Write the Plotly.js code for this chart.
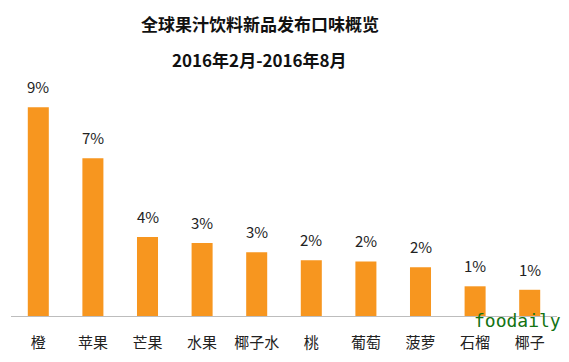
<!DOCTYPE html>
<html>
<head>
<meta charset="utf-8">
<script src="https://cdn.plot.ly/plotly-3.0.1.min.js"></script>
<style>html,body{margin:0;padding:0;background:#fff;}#chart{width:569px;height:362px;}</style>
</head>
<body>
<div id="chart"></div>
<script>
// Data
var categories = ['橙', '苹果', '芒果', '水果', '椰子水', '桃', '葡萄', '菠萝', '石榴', '椰子'];
var shares = [9.0, 6.8, 3.4, 3.15, 2.75, 2.4, 2.35, 2.1, 1.28, 1.13];
var shareLabels = ['9%', '7%', '4%', '3%', '3%', '2%', '2%', '2%', '1%', '1%'];
var titleLine1 = '全球果汁饮料新品发布口味概览';
var titleLine2 = '2016年2月-2016年8月';
var watermark = 'foodaily';

var FONT = '"Noto Sans CJK SC", "Noto Sans", sans-serif';

var trace = {
  type: 'bar',
  x: categories,
  y: shares,
  marker: {color: '#F7961F'},
  hoverinfo: 'none'
};

var annotations = categories.map(function (c, i) {
  return {
    x: c, y: shares[i], xref: 'x', yref: 'y',
    text: shareLabels[i], showarrow: false,
    yanchor: 'bottom', yshift: 8,
    font: {family: FONT, size: 15, color: '#222'}
  };
});

annotations.push({
  xref: 'paper', yref: 'paper', x: 0.456, y: 1.085,
  xanchor: 'center', yanchor: 'middle',
  text: '<b>' + titleLine2 + '</b>', showarrow: false,
  font: {family: FONT, size: 17, color: '#111'}
});

annotations.push({
  xref: 'paper', yref: 'paper', x: 1.01, y: -0.019,
  xanchor: 'right', yanchor: 'middle', borderpad: 0,
  text: watermark, showarrow: false,
  font: {family: '"DejaVu Sans Mono", "Liberation Mono", monospace', size: 18, color: '#137313'}
});

var layout = {
  width: 569, height: 362,
  margin: {l: 11, r: 12, t: 80, b: 46},
  paper_bgcolor: '#fff', plot_bgcolor: '#fff',
  title: {
    text: '<b>' + titleLine1 + '</b>',
    xref: 'container', yref: 'container',
    x: 0.457, y: 0.931, xanchor: 'center', yanchor: 'middle',
    font: {family: FONT, size: 17, color: '#111'}
  },
  bargap: 0.615,
  showlegend: false,
  xaxis: {
    type: 'category',
    showline: true, linecolor: '#bdbdbd', linewidth: 1,
    ticks: 'outside', ticklen: 13, tickcolor: 'rgba(0,0,0,0)',
    tickfont: {family: FONT, size: 15, color: '#222'},
    showgrid: false, zeroline: false, fixedrange: true
  },
  yaxis: {
    range: [0, 10.17],
    visible: false, showgrid: false, zeroline: false, fixedrange: true
  },
  annotations: annotations
};

Plotly.newPlot('chart', [trace], layout, {displayModeBar: false, staticPlot: true});
</script>
</body>
</html>
